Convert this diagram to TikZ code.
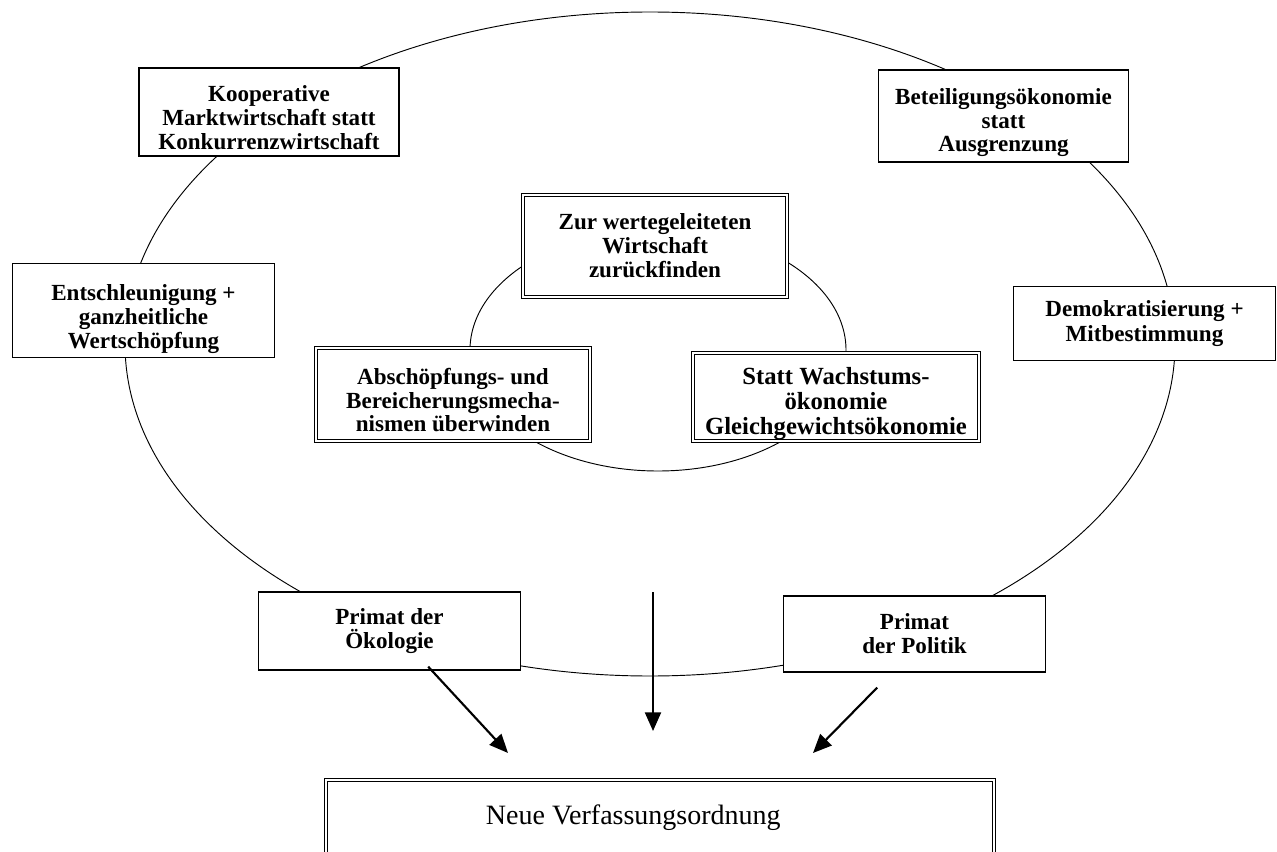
\documentclass[tikz,border=0pt]{standalone}
\usepackage{fontspec}
\setmainfont{Liberation Serif}
\usetikzlibrary{shapes,arrows.meta,positioning,calc}

\begin{document}
\begin{tikzpicture}[x=0.75pt,y=-0.75pt]
  \tikzstyle{ring} = [ellipse, draw, line width=0.7pt, inner sep=0pt]
  \tikzstyle{goal} = [rectangle, draw, fill=white, line width=0.9pt, align=center, inner sep=0pt, font=\fontsize{17.3}{17.9}\selectfont\bfseries]
  \tikzstyle{core} = [goal, double, double distance=1.3pt, line width=1pt]
  \tikzstyle{flow} = [line width=1.6pt, -{Triangle[length=14pt,width=12pt]}]

  \useasboundingbox (0,0) rectangle (1277,852);

  % the two rings
  \node [ring, minimum width=787.5pt, minimum height=498pt] (outerring) at (650,344) {};
  \node [ring, minimum width=282pt, minimum height=181.5pt] (innerring) at (658,350) {};

  % outer ring
  \node [goal, minimum width=195pt, minimum height=66pt] (koop) at (269,112) {\rule{0pt}{21pt}Kooperative\\Marktwirtschaft statt\\Konkurrenzwirtschaft};
  \node [goal, minimum width=188pt, minimum height=69pt] (beteil) at (1003.5,116) {\rule{0pt}{22pt}Beteiligungsökonomie\\statt\\Ausgrenzung};
  \node [goal, minimum width=197pt, minimum height=70pt] (entschl) at (143.5,310.5) {\rule{0pt}{25pt}Entschleunigung +\\ganzheitliche\\Wertschöpfung};
  \node [goal, minimum width=196pt, minimum height=55pt] (demokr) at (1144.5,323.5) {Demokratisierung +\\[1.5pt]Mitbestimmung};
  \node [goal, minimum width=197pt, minimum height=58.5pt] (oekologie) at (389.5,631) {Primat der\\Ökologie};
  \node [goal, minimum width=197pt, minimum height=57pt] (politik) at (914.5,634) {Primat\\der Politik};

  % inner ring
  \node [core, minimum width=198pt, minimum height=76.5pt] (werte) at (655,246) {Zur wertegeleiteten\\Wirtschaft\\zurückfinden};
  \node [core, minimum width=205.5pt, minimum height=70pt] (abschoepf) at (453,394.5) {\rule{0pt}{20.5pt}Abschöpfungs- und\\Bereicherungsmecha-\\nismen überwinden};
  \node [core, minimum width=214.5pt, minimum height=66pt, font=\fontsize{18.5}{18.8}\selectfont\bfseries] (wachstum) at (836,397) {\rule{0pt}{23pt}Statt Wachstums-\\ökonomie\\Gleichgewichtsökonomie};

  % result
  \node [core, minimum width=501pt, minimum height=57pt, font=\fontsize{21}{24}\selectfont] (verfassung) at (660,818) {\hspace*{-40pt}Neue Verfassungsordnung};

  \coordinate (midstart) at (653,592);
  \coordinate (lefttip) at (508,753);
  \coordinate (midtip) at (653,731);
  \coordinate (righttip) at (813,753);

  \draw [flow] ([xshift=29pt,yshift=3pt]oekologie.south) -- (lefttip);
  \draw [flow] (midstart) -- (midtip);
  \draw [flow] ([xshift=-28pt,yshift=-11.25pt]politik.south) -- (righttip);
\end{tikzpicture}
\end{document}
